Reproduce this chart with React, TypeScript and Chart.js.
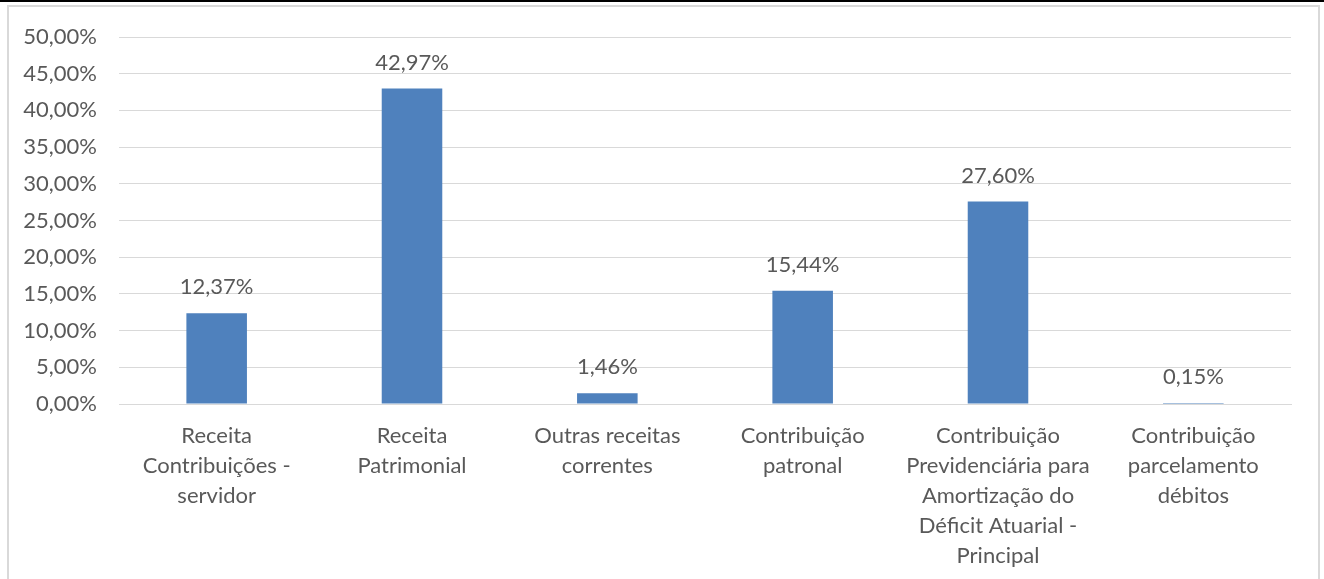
import React, { useEffect, useRef } from "react";
import { Chart, registerables } from "chart.js";

Chart.register(...registerables);

const categories: string[][] = [
  ["Receita", "Contribuições -", "servidor"],
  ["Receita", "Patrimonial"],
  ["Outras receitas", "correntes"],
  ["Contribuição", "patronal"],
  ["Contribuição", "Previdenciária para", "Amortização do", "Déficit Atuarial -", "Principal"],
  ["Contribuição", "parcelamento", "débitos"],
];
const values: number[] = [12.37, 42.97, 1.46, 15.44, 27.6, 0.15];
const yMin = 0;
const yMax = 50;
const yStep = 5;

const FONT = "Lato, 'Open Sans', sans-serif";
const TEXT = "#595959";
const BAR = "#4F81BD";
const GRID = "#D9D9D9";

const fmt = (v: number) => v.toFixed(2).replace(".", ",") + "%";

const dataLabels = {
  id: "dataLabels",
  afterDatasetsDraw(chart: any) {
    const ctx = chart.ctx;
    const meta = chart.getDatasetMeta(0);
    ctx.save();
    ctx.font = `22px ${FONT}`;
    ctx.fillStyle = TEXT;
    ctx.textAlign = "center";
    ctx.textBaseline = "middle";
    meta.data.forEach((el: any, i: number) => {
      ctx.fillText(fmt(values[i]), el.x, el.y - 26);
    });
    ctx.restore();
  },
};

export default function App() {
  const ref = useRef<HTMLCanvasElement | null>(null);
  useEffect(() => {
    if (!ref.current) return;
    const chart = new Chart(ref.current, {
      type: "bar",
      data: {
        labels: categories,
        datasets: [
          {
            data: values,
            backgroundColor: BAR,
            barPercentage: 0.31,
            categoryPercentage: 1,
          },
        ],
      },
      options: {
        animation: false,
        responsive: false,
        maintainAspectRatio: false,
        layout: { padding: { top: 37, right: 33, left: 0, bottom: 0 } },
        plugins: { legend: { display: false }, tooltip: { enabled: false } },
        scales: {
          x: {
            grid: { display: false, drawTicks: false },
            border: { display: true, color: GRID, width: 1 },
            ticks: {
              color: TEXT,
              padding: 17,
              maxRotation: 0,
              autoSkip: false,
              font: { family: FONT, size: 22, lineHeight: "30px" } as any,
            },
            afterFit: (s: any) => {
              s.height = 175;
            },
          },
          y: {
            min: yMin,
            max: yMax,
            grid: { color: GRID, drawTicks: false, lineWidth: 1 },
            border: { display: false },
            ticks: {
              stepSize: yStep,
              color: TEXT,
              padding: 22,
              font: { family: FONT, size: 22 },
              callback: (v: any) => fmt(Number(v)),
            },
            afterFit: (s: any) => {
              s.width = 119;
            },
          },
        },
      },
      plugins: [dataLabels],
    });
    return () => chart.destroy();
  }, []);

  return (
    <div
      style={{
        position: "absolute",
        left: 0,
        top: 0,
        width: 1324,
        height: 579,
        background: "#fff",
        overflow: "hidden",
      }}
    >
      <div style={{ position: "absolute", left: 0, top: 0, width: 1324, height: 2, background: "#000" }} />
      <div
        style={{
          position: "absolute",
          left: 7,
          top: 5,
          width: 1309,
          height: 600,
          border: `2px solid ${GRID}`,
          borderBottom: "none",
        }}
      />
      <canvas
        ref={ref}
        width={1324}
        height={579}
        style={{ position: "absolute", left: 0, top: 0, width: 1324, height: 579 }}
      />
    </div>
  );
}
